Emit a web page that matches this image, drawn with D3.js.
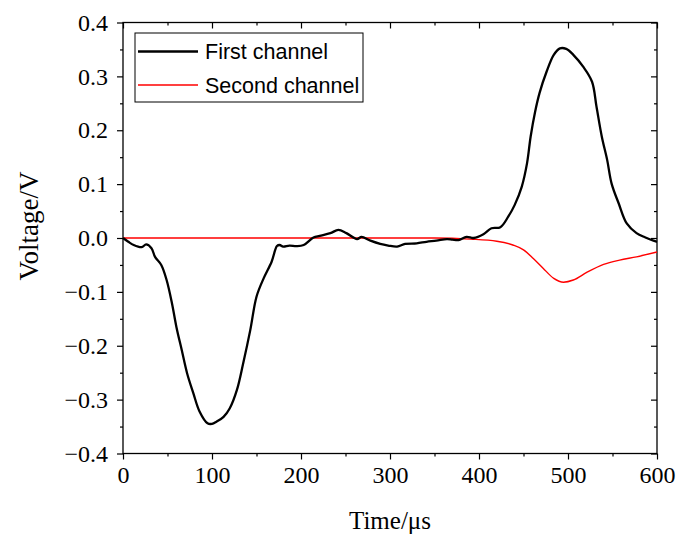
<!DOCTYPE html>
<html>
<head>
<meta charset="utf-8">
<script src="https://cdn.jsdelivr.net/npm/d3@7"></script>
<style>
  body { margin: 0; background: #fff; }
  svg { display: block; }
</style>
</head>
<body>
<svg id="chart" width="681" height="535"></svg>
<script>
// first channel (black)
const time1 = [0, 6, 12, 21, 26, 32, 36, 43, 49, 55, 60, 66, 72, 79, 86, 95, 100, 105, 113, 120,
  128, 135, 143, 150, 158, 167, 173, 176, 180, 187, 195, 203, 214, 221, 233, 242, 251, 263, 268, 278,
  289, 298, 308, 317, 330, 341, 352, 364, 370, 377, 386, 394, 405, 414, 424, 433, 440, 448, 454, 458,
  463, 468, 476, 484, 491, 498, 506, 517, 527, 532, 538, 544, 549, 557, 566, 577, 587, 596, 600];
const volt1 = [0, -0.007, -0.013, -0.017, -0.012, -0.019, -0.035, -0.050, -0.078, -0.121, -0.165, -0.208, -0.251, -0.288, -0.322, -0.344, -0.345, -0.341, -0.332, -0.316,
  -0.282, -0.233, -0.171, -0.109, -0.075, -0.044, -0.015, -0.013, -0.016, -0.014, -0.015, -0.013, 0.001, 0.004, 0.009, 0.015, 0.009, -0.002, 0.002, -0.005,
  -0.011, -0.014, -0.016, -0.011, -0.010, -0.007, -0.005, -0.002, -0.003, -0.004, 0.002, 0.000, 0.007, 0.018, 0.020, 0.040, 0.061, 0.095, 0.139, 0.188,
  0.234, 0.269, 0.309, 0.340, 0.352, 0.351, 0.340, 0.318, 0.290, 0.244, 0.188, 0.145, 0.101, 0.064, 0.027, 0.009, 0.001, -0.005, -0.007];

// second channel (red)
const time2 = [0, 100, 200, 300, 350, 390, 420, 438, 450, 461, 472, 484, 495, 506, 521, 540, 558, 577, 600];
const volt2 = [0, 0, 0, 0, 0, -0.002, -0.006, -0.013, -0.022, -0.038, -0.056, -0.075, -0.082, -0.078, -0.064, -0.049, -0.041, -0.035, -0.026];

const xTicks = [0, 100, 200, 300, 400, 500, 600];
const yTicks = [-0.4, -0.3, -0.2, -0.1, 0.0, 0.1, 0.2, 0.3, 0.4];
const seriesNames = ['First channel', 'Second channel'];

const mLeft = 123, mTop = 22.5, w = 534, h = 431;
const svg = d3.select('#chart');
const g = svg.append('g').attr('transform', `translate(${mLeft},${mTop})`);

const x = d3.scaleLinear().domain([0, 600]).range([0, w]);
const y = d3.scaleLinear().domain([-0.4, 0.4]).range([h, 0]);

const serif = 'Liberation Serif, Times New Roman, serif';
const fmt = d3.format('.1f');

// minor ticks
const xMinor = d3.range(50, 600, 100);
const yMinor = d3.range(-0.35, 0.4, 0.1);

function styleAxis(sel) {
  sel.select('.domain').remove();
  sel.selectAll('line').attr('stroke', '#000').attr('stroke-width', 1.2);
  sel.selectAll('text').attr('font-family', serif).attr('font-size', 24).attr('fill', '#000');
}

g.append('g').attr('transform', `translate(0,${h})`)
  .call(d3.axisBottom(x).tickValues(xTicks).tickSize(6).tickPadding(6).tickFormat(d3.format('d')))
  .call(styleAxis);
g.append('g').attr('transform', `translate(0,${h})`)
  .call(d3.axisBottom(x).tickValues(xMinor).tickSize(3).tickFormat(''))
  .call(styleAxis);
g.append('g')
  .call(d3.axisLeft(y).tickValues(yTicks).tickSize(6).tickPadding(9).tickFormat(fmt))
  .call(styleAxis);
g.append('g')
  .call(d3.axisLeft(y).tickValues(yMinor).tickSize(3).tickFormat(''))
  .call(styleAxis);
// top / right, ticks inward
g.append('g')
  .call(d3.axisBottom(x).tickValues(xTicks).tickSize(6).tickFormat(''))
  .call(styleAxis);
g.append('g')
  .call(d3.axisBottom(x).tickValues(xMinor).tickSize(3).tickFormat(''))
  .call(styleAxis);
g.append('g').attr('transform', `translate(${w},0)`)
  .call(d3.axisLeft(y).tickValues(yTicks).tickSize(6).tickFormat(''))
  .call(styleAxis);
g.append('g').attr('transform', `translate(${w},0)`)
  .call(d3.axisLeft(y).tickValues(yMinor).tickSize(3).tickFormat(''))
  .call(styleAxis);

g.append('rect').attr('width', w).attr('height', h)
  .attr('fill', 'none').attr('stroke', '#000').attr('stroke-width', 1.3);

const line1 = d3.line().x((d, i) => x(time1[i])).y(d => y(d)).curve(d3.curveCatmullRom);
const line2 = d3.line().x((d, i) => x(time2[i])).y(d => y(d)).curve(d3.curveMonotoneX);

g.append('path').attr('d', line2(volt2))
  .attr('fill', 'none').attr('stroke', '#ff0000').attr('stroke-width', 1.4);
g.append('path').attr('d', line1(volt1))
  .attr('fill', 'none').attr('stroke', '#000').attr('stroke-width', 2.3)
  .attr('stroke-linejoin', 'round');

// axis titles
svg.append('text').attr('x', mLeft + w / 2).attr('y', 529)
  .attr('text-anchor', 'middle').attr('font-family', serif).attr('font-size', 25)
  .text('Time/μs');
svg.append('text').attr('transform', 'translate(38,226) rotate(-90)')
  .attr('text-anchor', 'middle').attr('font-family', serif).attr('font-size', 27)
  .text('Voltage/V');

// legend
const lg = svg.append('g').attr('transform', 'translate(135,33)');
lg.append('rect').attr('width', 228).attr('height', 69)
  .attr('fill', '#fff').attr('stroke', '#000').attr('stroke-width', 1);
const colors = ['#000', '#ff0000'];
const widths = [2.3, 1.4];
seriesNames.forEach((name, i) => {
  const yy = 18.5 + i * 33.5;
  lg.append('line').attr('x1', 3).attr('x2', 63).attr('y1', yy).attr('y2', yy)
    .attr('stroke', colors[i]).attr('stroke-width', widths[i]);
  lg.append('text').attr('x', 70).attr('y', yy + 7.5)
    .attr('font-family', 'Liberation Sans, Arial, sans-serif').attr('font-size', 21.5)
    .text(name);
});
</script>
</body>
</html>
